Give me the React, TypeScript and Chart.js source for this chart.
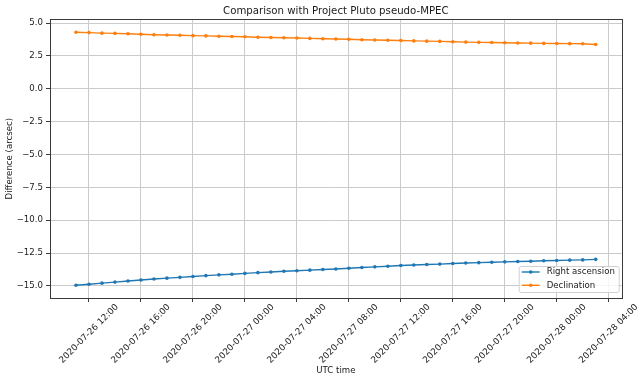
import { useEffect, useRef } from 'react';
import { Chart, registerables } from 'chart.js';

Chart.register(...registerables);

const times = [
  '2020-07-26 11:00', '2020-07-26 12:00', '2020-07-26 13:00', '2020-07-26 14:00', '2020-07-26 15:00',
  '2020-07-26 16:00', '2020-07-26 17:00', '2020-07-26 18:00', '2020-07-26 19:00', '2020-07-26 20:00',
  '2020-07-26 21:00', '2020-07-26 22:00', '2020-07-26 23:00', '2020-07-27 00:00', '2020-07-27 01:00',
  '2020-07-27 02:00', '2020-07-27 03:00', '2020-07-27 04:00', '2020-07-27 05:00', '2020-07-27 06:00',
  '2020-07-27 07:00', '2020-07-27 08:00', '2020-07-27 09:00', '2020-07-27 10:00', '2020-07-27 11:00',
  '2020-07-27 12:00', '2020-07-27 13:00', '2020-07-27 14:00', '2020-07-27 15:00', '2020-07-27 16:00',
  '2020-07-27 17:00', '2020-07-27 18:00', '2020-07-27 19:00', '2020-07-27 20:00', '2020-07-27 21:00',
  '2020-07-27 22:00', '2020-07-27 23:00', '2020-07-28 00:00', '2020-07-28 01:00', '2020-07-28 02:00',
  '2020-07-28 03:00',
];

const rightAscension = [
  -14.95, -14.87, -14.79, -14.71, -14.63, -14.55, -14.48, -14.41, -14.35, -14.28,
  -14.22, -14.16, -14.11, -14.05, -13.99, -13.94, -13.89, -13.85, -13.80, -13.75,
  -13.71, -13.66, -13.60, -13.55, -13.50, -13.45, -13.41, -13.37, -13.34, -13.30,
  -13.26, -13.23, -13.20, -13.17, -13.14, -13.12, -13.09, -13.07, -13.04, -13.02,
  -12.98,
];

const declination = [
  4.30, 4.27, 4.23, 4.21, 4.18, 4.15, 4.11, 4.09, 4.07, 4.04,
  4.02, 3.99, 3.97, 3.95, 3.92, 3.90, 3.88, 3.86, 3.83, 3.80,
  3.78, 3.77, 3.73, 3.71, 3.69, 3.67, 3.64, 3.62, 3.60, 3.57,
  3.55, 3.53, 3.52, 3.50, 3.48, 3.47, 3.45, 3.44, 3.43, 3.42,
  3.37,
];

const xTickLabels = [
  '2020-07-26 12:00', '2020-07-26 16:00', '2020-07-26 20:00', '2020-07-27 00:00',
  '2020-07-27 04:00', '2020-07-27 08:00', '2020-07-27 12:00', '2020-07-27 16:00',
  '2020-07-27 20:00', '2020-07-28 00:00', '2020-07-28 04:00',
];

const yTicks = [-15, -12.5, -10, -7.5, -5, -2.5, 0, 2.5, 5];
const xRange = ['2020-07-26 09:00', '2020-07-28 05:00'];
const yRange = [-15.92, 5.28];

const seriesNames = ['Right ascension', 'Declination'];
const seriesColors = ['#1f77b4', '#ff7f0e'];

const FONT = 'DejaVu Sans';
const TEXT = '#1a1a1a';
const GRID = '#cbcbcb';
const SPINE = '#3a3a3a';

const toMs = (s: string) =>
  Date.UTC(+s.slice(0, 4), +s.slice(5, 7) - 1, +s.slice(8, 10), +s.slice(11, 13), +s.slice(14, 16));

const fmtY = (v: number) => v.toFixed(1).replace('-', '\u2212');

const framePlugin = {
  id: 'frameAndLegend',
  afterDatasetsDraw(chart: any) {
    const { ctx, chartArea } = chart;
    ctx.save();
    ctx.strokeStyle = SPINE;
    ctx.lineWidth = 1;
    ctx.strokeRect(
      Math.round(chartArea.left) + 0.5,
      Math.round(chartArea.top) + 0.5,
      Math.round(chartArea.right - chartArea.left),
      Math.round(chartArea.bottom - chartArea.top)
    );
    ctx.restore();
  },
  afterDraw(chart: any) {
    const { ctx, chartArea } = chart;
    const w = 100;
    const h = 26;
    const x = chartArea.right - 3 - w;
    const y = chartArea.bottom - 6 - h;
    ctx.save();
    ctx.beginPath();
    if (ctx.roundRect) ctx.roundRect(x + 0.5, y + 0.5, w, h, 2);
    else ctx.rect(x + 0.5, y + 0.5, w, h);
    ctx.fillStyle = 'rgba(255,255,255,0.8)';
    ctx.fill();
    ctx.strokeStyle = '#d0d0d0';
    ctx.lineWidth = 1;
    ctx.stroke();
    chart.data.datasets.forEach((ds: any, i: number) => {
      const ry = y + 6 + i * 13.3;
      ctx.strokeStyle = ds.borderColor;
      ctx.lineWidth = 1.4;
      ctx.beginPath();
      ctx.moveTo(x + 3, ry);
      ctx.lineTo(x + 21, ry);
      ctx.stroke();
      ctx.fillStyle = ds.borderColor;
      ctx.beginPath();
      ctx.arc(x + 12, ry, 1.8, 0, Math.PI * 2);
      ctx.fill();
      ctx.fillStyle = TEXT;
      ctx.font = `8.6px "${FONT}"`;
      ctx.textBaseline = 'middle';
      ctx.textAlign = 'left';
      ctx.fillText(ds.label, x + 28, ry);
    });
    ctx.restore();
  },
};

export default function App() {
  const canvasRef = useRef<HTMLCanvasElement | null>(null);

  useEffect(() => {
    document.body.style.margin = '0';
    const canvas = canvasRef.current;
    if (!canvas) return;
    const xs = times.map(toMs);
    const xTickVals = xTickLabels.map(toMs);
    const font = { family: FONT, size: 8.6 };

    const chart = new Chart(canvas, {
      type: 'line',
      data: {
        datasets: [rightAscension, declination].map((vals, si) => ({
          label: seriesNames[si],
          data: vals.map((v, i) => ({ x: xs[i], y: v })),
          borderColor: seriesColors[si],
          backgroundColor: seriesColors[si],
          borderWidth: 1.4,
          pointRadius: 1.8,
          pointBorderWidth: 0,
          pointBackgroundColor: seriesColors[si],
          tension: 0,
          fill: false,
        })),
      },
      options: {
        animation: false,
        responsive: false,
        events: [],
        layout: { padding: { left: 0, right: 22.3, top: 0, bottom: 0 } },
        plugins: {
          legend: { display: false },
          tooltip: { enabled: false },
          title: {
            display: true,
            fullSize: false,
            text: 'Comparison with Project Pluto pseudo-MPEC',
            color: TEXT,
            font: { family: FONT, size: 10.2, weight: 'normal' },
            padding: { top: 4.9, bottom: 2.2 },
          },
        },
        scales: {
          x: {
            type: 'linear',
            min: toMs(xRange[0]),
            max: toMs(xRange[1]),
            afterBuildTicks: (s: any) => {
              s.ticks = xTickVals.map((v) => ({ value: v }));
            },
            afterFit: (s: any) => {
              s.height = 84;
              s.paddingLeft = 0;
              s.paddingRight = 0;
            },
            ticks: {
              autoSkip: false,
              minRotation: 45,
              maxRotation: 45,
              labelOffset: 28,
              padding: 0,
              color: TEXT,
              font: { family: FONT, size: 8.8 },
              callback: (_v: any, i: number) => xTickLabels[i],
            },
            grid: { color: GRID, lineWidth: 1, tickLength: 4, tickColor: SPINE, tickWidth: 1 },
            border: { display: false },
            title: { display: true, text: 'UTC time', color: TEXT, font, padding: { top: 0, bottom: 5.9 } },
          },
          y: {
            type: 'linear',
            min: yRange[0],
            max: yRange[1],
            afterBuildTicks: (s: any) => {
              s.ticks = yTicks.map((v) => ({ value: v }));
            },
            afterFit: (s: any) => {
              s.width = 50;
              s.paddingTop = 0;
              s.paddingBottom = 0;
            },
            ticks: {
              autoSkip: false,
              padding: 3,
              color: TEXT,
              font,
              callback: (v: any) => fmtY(Number(v)),
            },
            grid: { color: GRID, lineWidth: 1, tickLength: 4, tickColor: SPINE, tickWidth: 1 },
            border: { display: false },
            title: { display: true, text: 'Difference (arcsec)', color: TEXT, font, padding: { top: 4.9, bottom: 0 } },
          },
        },
      },
      plugins: [framePlugin],
    } as any);

    return () => chart.destroy();
  }, []);

  return (
    <div style={{ width: 644, height: 382 }}>
      <canvas ref={canvasRef} width={644} height={382} style={{ display: 'block' }} />
    </div>
  );
}
